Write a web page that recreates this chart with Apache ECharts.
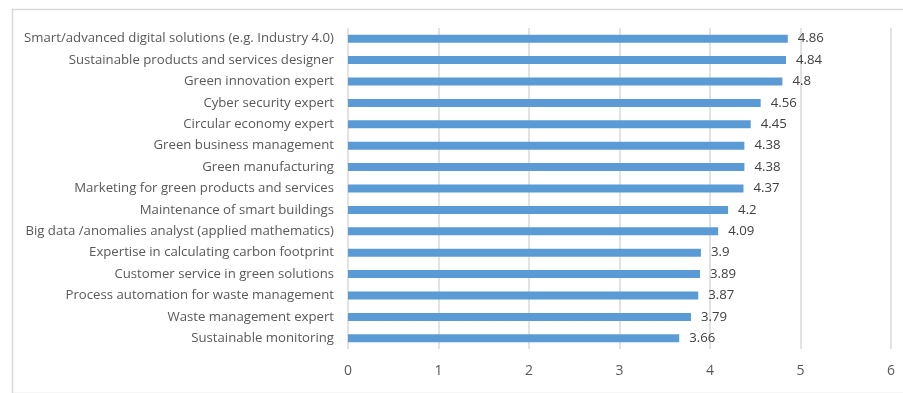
<!DOCTYPE html>
<html><head><meta charset="utf-8">
<script src="https://cdn.jsdelivr.net/npm/echarts@6/dist/echarts.min.js"></script>
<style>html,body{margin:0;padding:0;background:#fff}#c{width:903px;height:393px}</style>
</head><body><div id="c"></div>
<script>
const categories = [
  "Smart/advanced digital solutions (e.g. Industry 4.0)",
  "Sustainable products and services designer",
  "Green innovation expert",
  "Cyber security expert",
  "Circular economy expert",
  "Green business management",
  "Green manufacturing",
  "Marketing for green products and services",
  "Maintenance of smart buildings",
  "Big data /anomalies analyst (applied mathematics)",
  "Expertise in calculating carbon footprint",
  "Customer service in green solutions",
  "Process automation for waste management",
  "Waste management expert",
  "Sustainable monitoring"
];
const values = [4.86, 4.84, 4.8, 4.56, 4.45, 4.38, 4.38, 4.37, 4.2, 4.09, 3.9, 3.89, 3.87, 3.79, 3.66];
const xTicks = [0, 1, 2, 3, 4, 5, 6];

const chart = echarts.init(document.getElementById('c'), null, {renderer: 'canvas'});
const font = '"Open Sans", "Liberation Sans", sans-serif';
chart.setOption({
  animation: false,
  backgroundColor: '#fff',
  graphic: [{
    type: 'rect', left: 10, top: 7,
    shape: {width: 910, height: 384},
    style: {fill: 'none', stroke: '#d9d9d9', lineWidth: 1.5},
    silent: true
  }],
  grid: {left: 348, right: 12, top: 28, bottom: 44, containLabel: false},
  xAxis: {
    type: 'value', min: xTicks[0], max: xTicks[xTicks.length - 1], interval: 1,
    axisLine: {show: false}, axisTick: {show: false},
    splitLine: {show: true, lineStyle: {color: '#d9d9d9', width: 1.5}},
    axisLabel: {color: '#595959', fontSize: 14, fontFamily: font, margin: 15}
  },
  yAxis: {
    type: 'category', data: categories, inverse: true,
    axisLine: {show: false}, axisTick: {show: false},
    axisLabel: {color: '#595959', fontSize: 13.2, fontFamily: font, margin: 14}
  },
  series: [{
    type: 'bar', data: values, barWidth: 8,
    itemStyle: {color: '#5b9bd5'},
    label: {show: true, position: 'right', distance: 10, color: '#404040', fontSize: 13.2, fontFamily: font}
  }]
});
</script></body></html>
